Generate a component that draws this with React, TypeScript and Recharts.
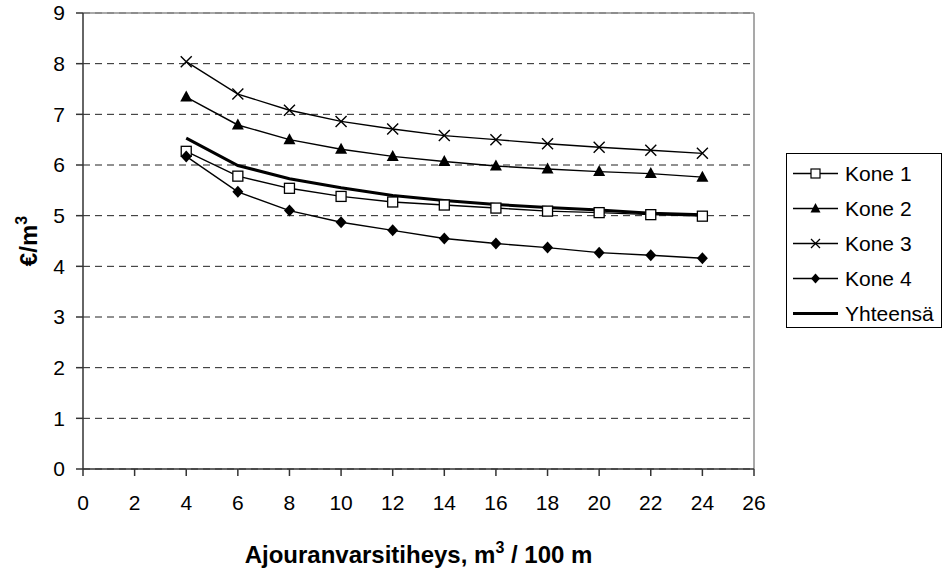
import React from 'react';
import { LineChart, Line, XAxis, YAxis, CartesianGrid, ReferenceLine } from 'recharts';

// Ajouranvarsitiheys (m3 / 100 m)
const X_VALUES = [4, 6, 8, 10, 12, 14, 16, 18, 20, 22, 24];

// €/m3 per machine
const KONE_1 = [6.27, 5.78, 5.54, 5.38, 5.27, 5.21, 5.15, 5.09, 5.06, 5.02, 4.99];
const KONE_2 = [7.34, 6.79, 6.5, 6.31, 6.17, 6.07, 5.98, 5.92, 5.87, 5.83, 5.76];
const KONE_3 = [8.04, 7.4, 7.08, 6.86, 6.71, 6.58, 6.5, 6.42, 6.35, 6.29, 6.23];
const KONE_4 = [6.17, 5.47, 5.1, 4.87, 4.71, 4.55, 4.45, 4.37, 4.27, 4.22, 4.16];
const YHTEENSA = [6.53, 5.99, 5.73, 5.55, 5.4, 5.3, 5.22, 5.16, 5.11, 5.05, 5.02];

const X_TICKS = [0, 2, 4, 6, 8, 10, 12, 14, 16, 18, 20, 22, 24, 26];
const Y_TICKS = [0, 1, 2, 3, 4, 5, 6, 7, 8, 9];

const data = X_VALUES.map((x, i) => ({
  x,
  k1: KONE_1[i],
  k2: KONE_2[i],
  k3: KONE_3[i],
  k4: KONE_4[i],
  tot: YHTEENSA[i],
}));

const FONT = 'Liberation Sans, Arial, sans-serif';

const SquareDot = ({ cx, cy }: any) => (
  <rect x={cx - 5} y={cy - 5} width={10} height={10} fill="#fff" stroke="#000" strokeWidth={1.3} />
);
const TriangleDot = ({ cx, cy }: any) => (
  <polygon points={`${cx},${cy - 6.5} ${cx - 6},${cy + 4.5} ${cx + 6},${cy + 4.5}`} fill="#000" />
);
const CrossDot = ({ cx, cy }: any) => (
  <path d={`M${cx - 5.5},${cy - 5.5}L${cx + 5.5},${cy + 5.5}M${cx + 5.5},${cy - 5.5}L${cx - 5.5},${cy + 5.5}`} stroke="#000" strokeWidth={1.4} />
);
const DiamondDot = ({ cx, cy }: any) => (
  <polygon points={`${cx},${cy - 6} ${cx + 5.5},${cy} ${cx},${cy + 6} ${cx - 5.5},${cy}`} fill="#000" />
);

const SERIES = [
  { key: 'k1', name: 'Kone 1', Dot: SquareDot, width: 1.4 },
  { key: 'k2', name: 'Kone 2', Dot: TriangleDot, width: 1.4 },
  { key: 'k3', name: 'Kone 3', Dot: CrossDot, width: 1.4 },
  { key: 'k4', name: 'Kone 4', Dot: DiamondDot, width: 1.4 },
  { key: 'tot', name: 'Yhteensä', Dot: null, width: 3 },
];

// small marker drawn in the middle of each legend sample line
const legendMarker = (key: string) => {
  if (key === 'k1') return <rect x={18} y={3} width={9} height={9} fill="#fff" stroke="#000" strokeWidth={1.2} />;
  if (key === 'k2') return <polygon points="22.5,2 17.5,11.5 27.5,11.5" fill="#000" />;
  if (key === 'k3') return <path d="M18,3L27,12M27,3L18,12" stroke="#000" strokeWidth={1.3} />;
  if (key === 'k4') return <polygon points="22.5,2.5 27,7.5 22.5,12.5 18,7.5" fill="#000" />;
  return null;
};

const LegendBox = () => (
  <div
    style={{
      position: 'absolute',
      left: 786,
      top: 153,
      width: 156,
      height: 175,
      border: '1px solid #000',
      background: '#fff',
      boxSizing: 'border-box',
      paddingTop: 2,
      fontFamily: FONT,
      fontSize: 21,
      color: '#000',
    }}
  >
    {SERIES.map((s) => (
      <div key={s.key} style={{ display: 'flex', alignItems: 'center', height: 35 }}>
        <svg width={45} height={15} style={{ flexShrink: 0, marginLeft: 6 }}>
          <line x1={0} y1={7.5} x2={45} y2={7.5} stroke="#000" strokeWidth={s.width === 3 ? 3 : 1.3} />
          {legendMarker(s.key)}
        </svg>
        <span style={{ marginLeft: 7, whiteSpace: 'nowrap' }}>{s.name}</span>
      </div>
    ))}
  </div>
);

const XTitle = ({ viewBox }: any) => {
  const cx = viewBox.x + viewBox.width / 2;
  return (
    <text x={cx} y={563} textAnchor="middle" fontFamily={FONT} fontSize={24} fontWeight="bold" fill="#000">
      Ajouranvarsitiheys, m<tspan dy={-10} fontSize={16}>3</tspan><tspan dy={10}> / 100 m</tspan>
    </text>
  );
};

const YTitle = ({ viewBox }: any) => {
  const cy = viewBox.y + viewBox.height / 2;
  return (
    <text x={0} y={0} transform={`translate(37,${cy}) rotate(-90)`} textAnchor="middle" fontFamily={FONT} fontSize={24} fontWeight="bold" fill="#000">
      €/m<tspan dy={-10} fontSize={16}>3</tspan>
    </text>
  );
};

export default function App() {
  return (
    <div style={{ position: 'absolute', left: 0, top: 0, width: 949, height: 570, background: '#fff' }}>
      <LineChart width={949} height={570} data={data} margin={{ top: 13, right: 195, bottom: 61, left: 0 }}>
        <CartesianGrid vertical={false} stroke="#222" strokeDasharray="7 5" />
        <XAxis
          dataKey="x"
          type="number"
          domain={[0, 26]}
          ticks={X_TICKS}
          interval={0}
          height={40}
          stroke="#333"
          strokeWidth={1.5}
          tickSize={7}
          tickMargin={19}
          tick={{ fontSize: 21, fill: '#000', fontFamily: FONT }}
          label={<XTitle />}
        />
        <YAxis
          type="number"
          domain={[0, 9]}
          ticks={Y_TICKS}
          interval={0}
          width={83}
          stroke="#333"
          strokeWidth={1.5}
          tickSize={7}
          tickMargin={11}
          tick={{ fontSize: 21, fill: '#000', fontFamily: FONT }}
          label={<YTitle />}
        />
        <ReferenceLine y={9} stroke="#8c8c8c" strokeWidth={1.5} />
        <ReferenceLine x={26} stroke="#8c8c8c" strokeWidth={1.5} />
        {SERIES.map((s) => (
          <Line
            key={s.key}
            dataKey={s.key}
            name={s.name}
            type="linear"
            stroke="#000"
            strokeWidth={s.width}
            dot={s.Dot ? <s.Dot /> : false}
            activeDot={false}
            isAnimationActive={false}
          />
        ))}
      </LineChart>
      <LegendBox />
    </div>
  );
}
